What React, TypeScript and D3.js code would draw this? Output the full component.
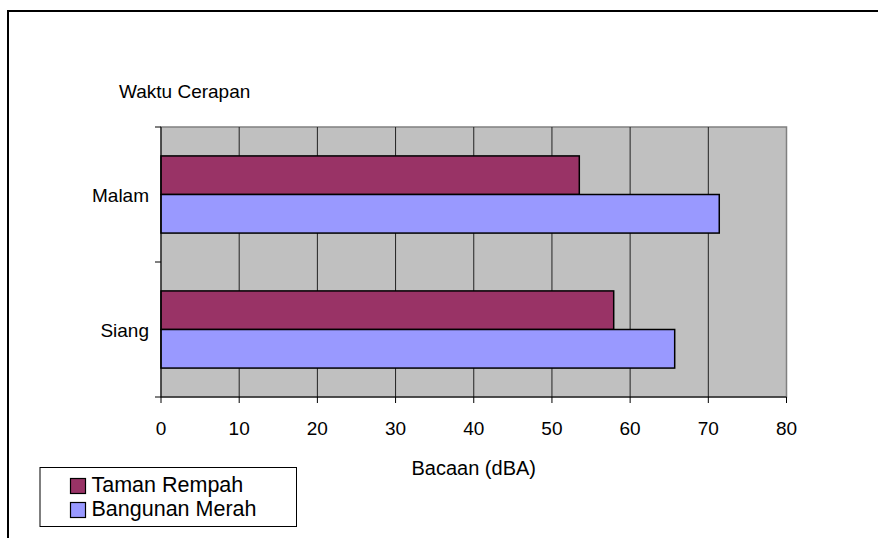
import React from "react";
import * as d3 from "d3";

const categories = ["Malam", "Siang"];
const seriesNames = ["Taman Rempah", "Bangunan Merah"];
const tamanRempah = [53.5, 57.9];
const bangunanMerah = [71.4, 65.7];
const xTicks = [0, 10, 20, 30, 40, 50, 60, 70, 80];
const colors = ["#993366", "#9999FF"];
const yTitle = "Waktu Cerapan";
const xTitle = "Bacaan (dBA)";

const W = 878;
const H = 538;
const FONT = "'Liberation Sans', Arial, sans-serif";

export default function App() {
  const left = 161;
  const right = 786.5;
  const top = 127;
  const bottom = 397;
  const x = d3.scaleLinear().domain([0, 80]).range([left, right]);
  const y0 = d3.scaleBand<string>().domain(categories).range([top, bottom]).padding(0);
  const y1 = d3
    .scaleBand<string>()
    .domain(seriesNames)
    .range([0, y0.bandwidth()])
    .paddingInner(0)
    .paddingOuter(0.75);
  const values = [tamanRempah, bangunanMerah];

  const catBoundaries = [top, ...categories.map((c) => (y0(c) as number) + y0.bandwidth())];

  return (
    <svg
      width={W}
      height={H}
      style={{ position: "absolute", left: 0, top: 0, background: "#fff" }}
      fontFamily={FONT}
    >
      <rect x={0} y={0} width={W} height={H} fill="#fff" />
      {/* outer chart border */}
      <rect x={8} y={11} width={W + 20} height={H + 20} fill="none" stroke="#000" strokeWidth={2} />
      {/* plot area */}
      <rect x={left} y={top} width={right - left} height={bottom - top} fill="#C0C0C0" stroke="#808080" strokeWidth={1.5} />
      {/* gridlines */}
      {xTicks.slice(1, -1).map((t) => (
        <line key={"g" + t} x1={x(t)} x2={x(t)} y1={top} y2={bottom} stroke="#222" strokeWidth={1} />
      ))}
      {/* bars */}
      {categories.map((c, ci) =>
        seriesNames.map((s, si) => (
          <rect
            key={c + s}
            x={x(0)}
            y={(y0(c) as number) + (y1(s) as number)}
            width={x(values[si][ci]) - x(0)}
            height={y1.bandwidth()}
            fill={colors[si]}
            stroke="#000"
            strokeWidth={1.5}
          />
        ))
      )}
      {/* axes */}
      <line x1={left} x2={left} y1={top} y2={bottom} stroke="#000" strokeWidth={1} />
      <line x1={left} x2={right} y1={bottom} y2={bottom} stroke="#000" strokeWidth={1} />
      {catBoundaries.map((b, i) => (
        <line key={"yt" + i} x1={left - 6} x2={left} y1={b} y2={b} stroke="#000" strokeWidth={1} />
      ))}
      {xTicks.map((t) => (
        <g key={"xt" + t}>
          <line x1={x(t)} x2={x(t)} y1={bottom} y2={bottom + 6} stroke="#000" strokeWidth={1} />
          <text x={x(t)} y={435} textAnchor="middle" fontSize={19} fill="#000">
            {t}
          </text>
        </g>
      ))}
      {categories.map((c) => (
        <text
          key={"cl" + c}
          x={149}
          y={(y0(c) as number) + y0.bandwidth() / 2 + 7.5}
          textAnchor="end"
          fontSize={19}
          fill="#000"
        >
          {c}
        </text>
      ))}
      <text x={119} y={98} fontSize={19} fill="#000">
        {yTitle}
      </text>
      <text x={(left + right) / 2} y={475} textAnchor="middle" fontSize={20} fill="#000">
        {xTitle}
      </text>
      {/* legend */}
      <rect x={40} y={467.5} width={256.5} height={59} fill="#fff" stroke="#000" strokeWidth={1} />
      {seriesNames.map((s, i) => (
        <g key={"lg" + s}>
          <rect x={70.5} y={478.5 + i * 24} width={15} height={15} fill={colors[i]} stroke="#000" strokeWidth={1.2} />
          <text x={91.5} y={492 + i * 24} fontSize={21.5} fill="#000">
            {s}
          </text>
        </g>
      ))}
    </svg>
  );
}
